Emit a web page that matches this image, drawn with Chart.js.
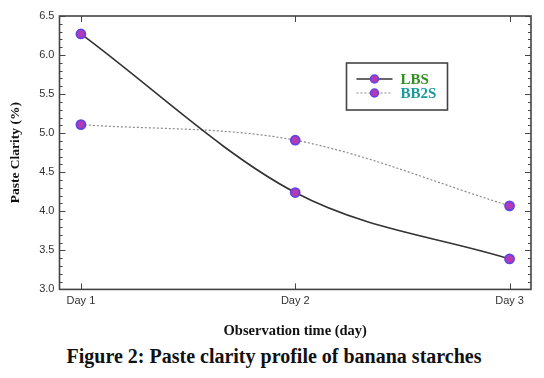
<!DOCTYPE html>
<html>
<head>
<meta charset="utf-8">
<script src="https://cdn.jsdelivr.net/npm/chart.js@4.4.1/dist/chart.umd.min.js"></script>
<style>
  html, body { margin: 0; padding: 0; background: #fff; }
  #wrap { position: relative; width: 544px; height: 378px; }
  #cap {
    position: absolute; left: 2px; width: 544px; top: 345px; text-align: center;
    font: bold 20px "Liberation Serif", "Times New Roman", serif; color: #111;
  }
</style>
</head>
<body>
<div id="wrap">
  <canvas id="myChart" width="544" height="340"></canvas>
  <div id="cap">Figure 2: Paste clarity profile of banana starches</div>
</div>
<script>
// ---- data ----
const days = [1, 2, 3];
const dayLabels = ['Day 1', 'Day 2', 'Day 3'];
const lbsValues = [6.27, 4.24, 3.39];
const bb2sValues = [5.11, 4.91, 4.07];
const yTicks = [3.0, 3.5, 4.0, 4.5, 5.0, 5.5, 6.0, 6.5];

const frameColor = '#444';

// inward ticks, minor ticks and box around the plot
const framePlugin = {
  id: 'frame',
  afterDatasetsDraw(chart) {
    const { ctx, chartArea: a, scales } = chart;
    ctx.save();
    ctx.strokeStyle = frameColor;
    ctx.lineWidth = 1;
    // minor + major y ticks, left and right
    for (let i = 0; i <= 35; i++) {
      const v = 3 + i * 0.1;
      const y = Math.round(scales.y.getPixelForValue(v)) + 0.5;
      const len = (i % 5 === 0) ? 6 : 3;
      ctx.beginPath();
      ctx.moveTo(a.left, y); ctx.lineTo(a.left + len, y);
      ctx.moveTo(a.right, y); ctx.lineTo(a.right - len, y);
      ctx.stroke();
    }
    // x ticks top and bottom
    days.forEach(d => {
      const x = Math.round(scales.x.getPixelForValue(d)) + 0.5;
      ctx.beginPath();
      ctx.moveTo(x, a.bottom); ctx.lineTo(x, a.bottom - 6);
      ctx.moveTo(x, a.top); ctx.lineTo(x, a.top + 6);
      ctx.stroke();
    });
    ctx.lineWidth = 1.6;
    ctx.strokeRect(a.left, a.top, a.right - a.left, a.bottom - a.top);

    // legend box
    const lx = a.left + 287, ly = a.top + 47, lw = 101, lh = 47;
    ctx.lineWidth = 1.6;
    ctx.fillStyle = '#fff';
    ctx.fillRect(lx, ly, lw, lh);
    ctx.strokeRect(lx, ly, lw, lh);
    const rows = [
      { label: 'LBS', color: '#2f8f1f', dash: [], line: '#333', y: ly + 16 },
      { label: 'BB2S', color: '#1c9a9a', dash: [2, 2], line: '#888', y: ly + 30 }
    ];
    rows.forEach(r => {
      ctx.setLineDash(r.dash);
      ctx.strokeStyle = r.line;
      ctx.lineWidth = r.dash.length ? 1.2 : 1.6;
      ctx.beginPath();
      ctx.moveTo(lx + 10, r.y); ctx.lineTo(lx + 46, r.y);
      ctx.stroke();
      ctx.setLineDash([]);
      ctx.beginPath();
      ctx.arc(lx + 28, r.y, 4, 0, Math.PI * 2);
      ctx.fillStyle = '#b23ab6';
      ctx.fill();
      ctx.strokeStyle = '#6044e6';
      ctx.lineWidth = 1.5;
      ctx.stroke();
      ctx.fillStyle = r.color;
      ctx.font = 'bold 15px "Liberation Serif", serif';
      ctx.textBaseline = 'middle';
      ctx.fillText(r.label, lx + 54, r.y + 1);
    });
    ctx.restore();
  }
};

const pointStyle = {
  pointRadius: 4.5,
  pointBackgroundColor: '#b23ab6',
  pointBorderColor: '#6044e6',
  pointBorderWidth: 1.8
};

new Chart(document.getElementById('myChart'), {
  type: 'line',
  data: {
    datasets: [
      {
        label: 'LBS',
        data: days.map((d, i) => ({ x: d, y: lbsValues[i] })),
        borderColor: '#333',
        borderWidth: 1.6,
        cubicInterpolationMode: 'monotone',
        ...pointStyle
      },
      {
        label: 'BB2S',
        data: days.map((d, i) => ({ x: d, y: bb2sValues[i] })),
        borderColor: '#8a8a8a',
        borderWidth: 1.2,
        borderDash: [2, 2],
        cubicInterpolationMode: 'monotone',
        ...pointStyle
      }
    ]
  },
  options: {
    responsive: false,
    animation: false,
    layout: { padding: { top: 16, right: 13, left: 7, bottom: 0 } },
    plugins: { legend: { display: false }, tooltip: { enabled: false } },
    scales: {
      x: {
        type: 'linear',
        min: 0.9,
        max: 3.1,
        afterBuildTicks: s => { s.ticks = days.map(v => ({ value: v })); },
        ticks: {
          callback: v => dayLabels[days.indexOf(v)],
          color: '#333',
          font: { family: '"Liberation Sans", Arial, sans-serif', size: 11 },
          padding: 5
        },
        grid: { display: false, drawTicks: false },
        border: { display: false },
        title: {
          display: true,
          text: 'Observation time (day)',
          color: '#111',
          font: { family: '"Liberation Serif", serif', size: 14.5, weight: 'bold' },
          padding: { top: 10, bottom: 0 }
        }
      },
      y: {
        min: 3,
        max: 6.5,
        afterBuildTicks: s => { s.ticks = yTicks.map(v => ({ value: v })); },
        ticks: {
          callback: v => v.toFixed(1),
          color: '#333',
          font: { family: '"Liberation Sans", Arial, sans-serif', size: 11 },
          padding: 5
        },
        grid: { display: false, drawTicks: false },
        border: { display: false },
        title: {
          display: true,
          text: 'Paste Clarity (%)',
          color: '#111',
          font: { family: '"Liberation Serif", serif', size: 13.5, weight: 'bold' },
          padding: { top: 0, bottom: 11 }
        }
      }
    }
  },
  plugins: [framePlugin]
});
</script>
</body>
</html>
